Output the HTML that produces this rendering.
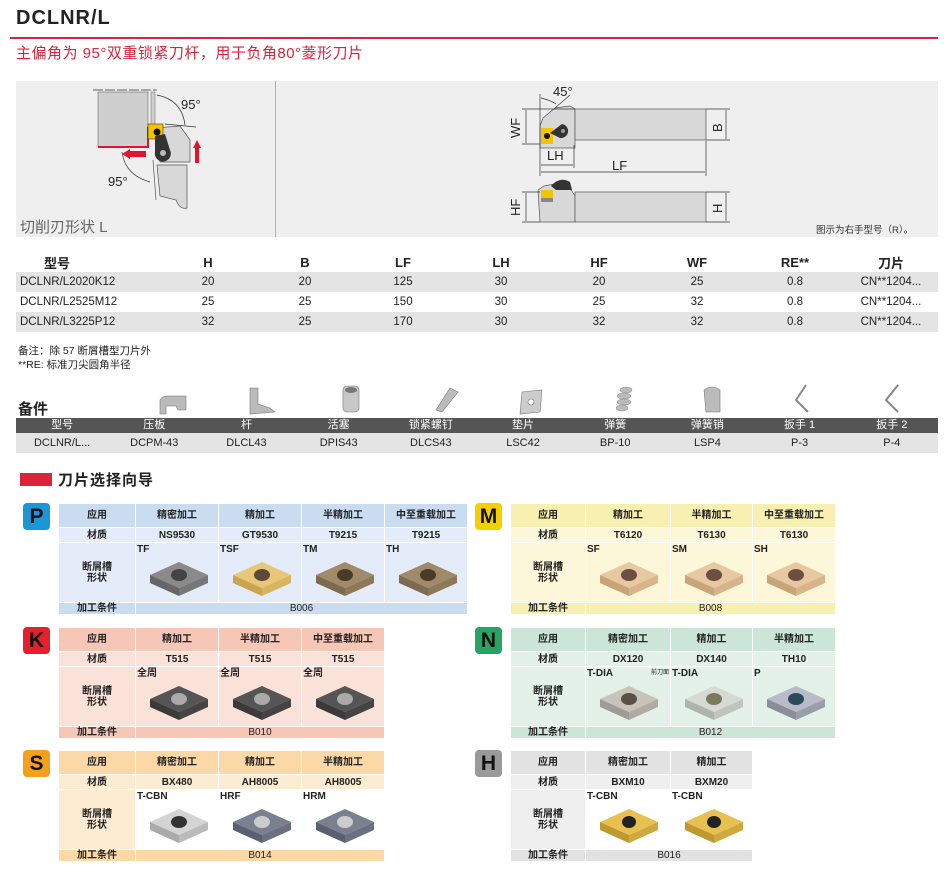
<!DOCTYPE html>
<html><head><meta charset="utf-8">
<style>
*{margin:0;padding:0;box-sizing:border-box}
body{width:950px;height:896px;background:#fff;position:relative;overflow:hidden;font-family:"Liberation Sans","Noto Sans CJK SC",sans-serif;color:#222}
.a{position:absolute}
table.g{position:absolute;border-collapse:collapse;table-layout:fixed}
table.g td{border:1px solid #fff;text-align:center;font-size:10px;font-weight:bold;padding:0;position:relative;vertical-align:middle;line-height:11px}
td .lb{position:absolute;left:1px;top:1px;font-size:10px;font-weight:bold}
td svg{position:absolute;left:12px;top:14px}
.badge{position:absolute;width:27px;height:27px;border-radius:4px;font-weight:bold;font-size:21px;text-align:center;line-height:27px;color:#111;font-family:"Liberation Sans",sans-serif}
table.s{position:absolute;border-collapse:collapse;table-layout:fixed;font-size:11.5px}
table.s td{text-align:center;padding:0;height:20px}
table.s tr.h15 td{height:15px;line-height:15px}
</style></head><body>

<div class="a" style="left:16px;top:7px;font-size:20px;font-weight:bold;letter-spacing:1px;color:#222">DCLNR/L</div>
<div class="a" style="left:10px;top:37px;width:928px;height:2px;background:#d9243a"></div>
<div class="a" style="left:16px;top:42px;font-size:15px;color:#d9243a;letter-spacing:0.5px">主偏角为 95°双重锁紧刀杆，用于负角80°菱形刀片</div>

<div class="a" style="left:16px;top:81px;width:922px;height:156px;background:#efefef"></div>
<div class="a" style="left:275px;top:81px;width:1px;height:156px;background:#e8a070"></div>

<svg class="a" style="left:0;top:0" width="950" height="240" viewBox="0 0 950 240">
 <g stroke="#333" stroke-width="0.8" fill="none">
  <line x1="93" y1="90" x2="157" y2="90" stroke-dasharray="10,2"/>
 </g>
 <rect x="98" y="92" width="50" height="55" fill="#cfcfcf" stroke="#666" stroke-width="0.6"/>
 <polyline points="98,147 148,147 148,127" fill="none" stroke="#e0142a" stroke-width="2"/>
 <rect x="151" y="92" width="4" height="35" fill="#cfcfcf" stroke="#666" stroke-width="0.5"/>
 <polygon points="155,128 180,126 190,140 190,162 160,162 156,140" fill="#d8d8d8" stroke="#555" stroke-width="0.7"/>
 <path d="M157,165 L187,165 L187,208 Q180,210 176,200 L160,196 Z" fill="#d8d8d8" stroke="#555" stroke-width="0.7"/>
 <line x1="153" y1="160" x2="156" y2="200" stroke="#555" stroke-width="0.7"/>
 <rect x="148" y="124" width="15" height="15" fill="#f5c400" stroke="#333" stroke-width="0.6"/>
 <circle cx="157" cy="132" r="3.5" fill="#111"/>
 <path d="M155,136 L165,134 L170,150 A8,8 0 1,1 155,152 Z" fill="#333"/>
 <circle cx="163" cy="153" r="3" fill="#bbb"/>
 <line x1="165" y1="124" x2="196" y2="127" stroke="#333" stroke-width="0.7"/>
 <path d="M157,95 Q182,100 185,125" fill="none" stroke="#333" stroke-width="0.7"/>
 <path d="M122,152 Q125,175 150,182" fill="none" stroke="#333" stroke-width="0.7"/>
 <text x="181" y="109" font-size="13" fill="#222">95°</text>
 <text x="108" y="186" font-size="13" fill="#222">95°</text>
 <polygon points="130,151 146,151 146,157 130,157 130,159 122,154 130,149" fill="#e0142a"/>
 <polygon points="195,163 195,148 193,148 197,140 201,148 199,148 199,163" fill="#e0142a"/>

 <polygon points="540,126 540,148 575,148 575,109 570,106 555,108 543,118" fill="#d8d8d8" stroke="#555" stroke-width="0.7"/>
 <rect x="575" y="109" width="131" height="31" fill="#d8d8d8" stroke="#555" stroke-width="0.7"/>
 <rect x="541" y="128" width="12" height="16" fill="#f5c400"/>
 <circle cx="547" cy="136" r="3" fill="#111"/>
 <path d="M550,133 L562,124 A7,7 0 1,1 560,138 Z" fill="#333"/>
 <circle cx="563" cy="131" r="2" fill="#999"/>
 <path d="M538,190 L544,186 L560,183 L570,188 L575,196 L575,222 L540,222 Z" fill="#d8d8d8" stroke="#555" stroke-width="0.7"/>
 <rect x="575" y="192" width="131" height="30" fill="#d8d8d8" stroke="#555" stroke-width="0.7"/>
 <path d="M551,186 Q560,176 570,182 L572,190 L556,190 Z" fill="#333"/>
 <rect x="541" y="190" width="12" height="10" fill="#f5c400"/>
 <rect x="541" y="198" width="12" height="4" fill="#888"/>
 <g stroke="#333" stroke-width="0.7" fill="none">
  <line x1="522" y1="109" x2="575" y2="109"/><line x1="522" y1="144" x2="540" y2="144"/>
  <line x1="526" y1="110" x2="526" y2="143"/>
  <line x1="706" y1="109" x2="730" y2="109"/><line x1="706" y1="140" x2="730" y2="140"/>
  <line x1="726" y1="110" x2="726" y2="139"/>
  <line x1="706" y1="192" x2="730" y2="192"/><line x1="706" y1="222" x2="730" y2="222"/>
  <line x1="726" y1="193" x2="726" y2="221"/>
  <line x1="522" y1="192" x2="540" y2="192"/><line x1="522" y1="222" x2="540" y2="222"/>
  <line x1="526" y1="193" x2="526" y2="221"/>
  <line x1="540" y1="94" x2="540" y2="176"/><line x1="574" y1="145" x2="574" y2="168"/>
  <line x1="706" y1="141" x2="706" y2="176"/>
  <line x1="541" y1="165" x2="573" y2="165"/><line x1="541" y1="172" x2="705" y2="172"/>
  <line x1="555" y1="108" x2="570" y2="95"/>
  <path d="M541,98 Q550,100 556,104"/>
 </g>
 <text x="553" y="96" font-size="13" fill="#222">45°</text>
 <text x="547" y="160" font-size="13" fill="#222">LH</text>
 <text x="612" y="170" font-size="13" fill="#222">LF</text>
 <text transform="translate(520,138) rotate(-90)" font-size="13" fill="#222">WF</text>
 <text transform="translate(520,216) rotate(-90)" font-size="13" fill="#222">HF</text>
 <text transform="translate(722,132) rotate(-90)" font-size="13" fill="#222">B</text>
 <text transform="translate(722,213) rotate(-90)" font-size="13" fill="#222">H</text>
</svg>
<div class="a" style="left:20px;top:216px;font-size:15px;color:#666">切削刃形状 L</div>
<div class="a" style="left:816px;top:222px;font-size:9.5px;color:#333">图示为右手型号（R）。</div>

<table class="s" style="left:16px;top:252px;width:922px">
<colgroup><col style="width:100px"><col style="width:140px"><col style="width:98px"><col style="width:98px"><col style="width:98px"><col style="width:98px"><col style="width:98px"><col style="width:98px"><col style="width:94px"></colgroup>
<tr style="font-weight:bold;font-size:13px"><td style="text-align:left;padding-left:28px">型号</td><td style="padding-left:44px">H</td><td>B</td><td>LF</td><td>LH</td><td>HF</td><td>WF</td><td>RE**</td><td>刀片</td></tr>
<tr style="background:#e4e4e4"><td style="text-align:left;padding-left:4px">DCLNR/L2020K12</td><td style="padding-left:44px">20</td><td>20</td><td>125</td><td>30</td><td>20</td><td>25</td><td>0.8</td><td>CN**1204...</td></tr>
<tr><td style="text-align:left;padding-left:4px">DCLNR/L2525M12</td><td style="padding-left:44px">25</td><td>25</td><td>150</td><td>30</td><td>25</td><td>32</td><td>0.8</td><td>CN**1204...</td></tr>
<tr style="background:#e4e4e4"><td style="text-align:left;padding-left:4px">DCLNR/L3225P12</td><td style="padding-left:44px">32</td><td>25</td><td>170</td><td>30</td><td>32</td><td>32</td><td>0.8</td><td>CN**1204...</td></tr>
</table>
<div class="a" style="left:18px;top:344px;font-size:10.5px;line-height:14px">备注：除 57 断屑槽型刀片外<br>**RE: 标准刀尖圆角半径</div>

<div class="a" style="left:18px;top:398px;font-size:15px;font-weight:bold">备件</div>
<svg class="a" style="left:0;top:380px" width="950" height="38">
 <path d="M160,34 L160,20 Q162,16 168,16 L186,16 L186,30 L178,30 L176,26 L166,26 L166,34 Z" fill="#bbb" stroke="#777" stroke-width="0.6"/>
 <path d="M250,8 L258,8 L258,24 L270,28 L275,32 L250,34 Z" fill="#bbb" stroke="#777" stroke-width="0.6"/>
 <rect x="343" y="6" width="16" height="26" rx="4" fill="#c8c8c8" stroke="#777" stroke-width="0.6"/><ellipse cx="351" cy="10" rx="6" ry="3" fill="#777"/>
 <path d="M450,8 L458,12 L442,32 L436,30 Z" fill="#bbb" stroke="#777" stroke-width="0.6"/>
 <polygon points="522,12 542,10 540,32 520,34" fill="#ccc" stroke="#777" stroke-width="0.6"/><circle cx="531" cy="22" r="3" fill="#fff" stroke="#777" stroke-width="0.6"/>
 <g fill="#bbb" stroke="#888" stroke-width="0.5"><ellipse cx="626" cy="10" rx="6" ry="3"/><ellipse cx="624" cy="16" rx="7" ry="3"/><ellipse cx="624" cy="22" rx="7" ry="3"/><ellipse cx="622" cy="28" rx="6" ry="3"/></g>
 <path d="M704,10 Q712,4 720,10 L720,32 L706,32 Z" fill="#bbb" stroke="#777" stroke-width="0.6"/>
 <polyline points="806,5 796,20 808,32" fill="none" stroke="#888" stroke-width="2"/>
 <polyline points="898,5 886,20 898,32" fill="none" stroke="#888" stroke-width="2"/>
</svg>
<table class="s" style="left:16px;top:418px;width:922px;font-size:11px">
<tr class="h15" style="background:#555;color:#fff"><td>型号</td><td>压板</td><td>杆</td><td>活塞</td><td>锁紧螺钉</td><td>垫片</td><td>弹簧</td><td>弹簧销</td><td>扳手 1</td><td>扳手 2</td></tr>
<tr style="background:#e4e4e4"><td>DCLNR/L...</td><td>DCPM-43</td><td>DLCL43</td><td>DPIS43</td><td>DLCS43</td><td>LSC42</td><td>BP-10</td><td>LSP4</td><td>P-3</td><td>P-4</td></tr>
</table>

<div class="a" style="left:20px;top:473px;width:32px;height:13px;background:#d9243a"></div>
<div class="a" style="left:58px;top:469px;font-size:15px;font-weight:bold;letter-spacing:1px">刀片选择向导</div>

<div class="badge" style="left:23px;top:503px;background:#1b97d5">P</div>
<table class="g" style="left:58px;top:503px;width:409px">
<colgroup><col style="width:77px"><col style="width:83px"><col style="width:83px"><col style="width:83px"><col style="width:83px"></colgroup>
<tr style="height:24px;background:#c9dcf0"><td>应用</td><td>精密加工</td><td>精加工</td><td>半精加工</td><td>中至重载加工</td></tr>
<tr style="height:15px;background:#e3ecf8;font-size:11px"><td>材质</td><td>NS9530</td><td>GT9530</td><td>T9215</td><td>T9215</td></tr>
<tr style="height:60px;background:#e3ecf8"><td>断屑槽<br>形状</td>
<td><span class="lb">TF</span><svg width="62" height="42"><polygon points="2,18 31,5 60,18 31,31" fill="#8a8a8a"/><polygon points="2,18 31,31 31,39 2,26" fill="#666"/><polygon points="31,31 60,18 60,26 31,39" fill="#777"/><ellipse cx="31" cy="18" rx="8" ry="6" fill="#444"/></svg></td>
<td><span class="lb">TSF</span><svg width="62" height="42"><polygon points="2,18 31,5 60,18 31,31" fill="#e8c878"/><polygon points="2,18 31,31 31,39 2,26" fill="#c9a550"/><polygon points="31,31 60,18 60,26 31,39" fill="#d8b460"/><ellipse cx="31" cy="18" rx="8" ry="6" fill="#5a4a3a"/></svg></td>
<td><span class="lb">TM</span><svg width="62" height="42"><polygon points="2,18 31,5 60,18 31,31" fill="#a08a6a"/><polygon points="2,18 31,31 31,39 2,26" fill="#7e6a4e"/><polygon points="31,31 60,18 60,26 31,39" fill="#8e785a"/><ellipse cx="31" cy="18" rx="8" ry="6" fill="#4a3a2a"/></svg></td>
<td><span class="lb">TH</span><svg width="62" height="42"><polygon points="2,18 31,5 60,18 31,31" fill="#a08a6a"/><polygon points="2,18 31,31 31,39 2,26" fill="#7e6a4e"/><polygon points="31,31 60,18 60,26 31,39" fill="#8e785a"/><ellipse cx="31" cy="18" rx="8" ry="6" fill="#4a3a2a"/></svg></td></tr>
<tr style="height:12px;background:#c9dcf0;font-weight:normal"><td style="font-weight:bold">加工条件</td><td colspan="4" style="font-weight:normal">B006</td></tr>
</table>

<div class="badge" style="left:475px;top:503px;background:#f5d000">M</div>
<table class="g" style="left:510px;top:503px;width:325px">
<colgroup><col style="width:75px"><col style="width:85px"><col style="width:82px"><col style="width:83px"></colgroup>
<tr style="height:24px;background:#f8f0b0"><td>应用</td><td>精加工</td><td>半精加工</td><td>中至重载加工</td></tr>
<tr style="height:15px;background:#fcf7d8;font-size:11px"><td>材质</td><td>T6120</td><td>T6130</td><td>T6130</td></tr>
<tr style="height:60px;background:#fcf7d8"><td>断屑槽<br>形状</td>
<td><span class="lb">SF</span><svg width="62" height="42"><polygon points="2,18 31,5 60,18 31,31" fill="#e8c8a0"/><polygon points="2,18 31,31 31,39 2,26" fill="#c8a478"/><polygon points="31,31 60,18 60,26 31,39" fill="#d8b48a"/><ellipse cx="31" cy="18" rx="8" ry="6" fill="#6a5040"/></svg></td>
<td><span class="lb">SM</span><svg width="62" height="42"><polygon points="2,18 31,5 60,18 31,31" fill="#e8c8a0"/><polygon points="2,18 31,31 31,39 2,26" fill="#c8a478"/><polygon points="31,31 60,18 60,26 31,39" fill="#d8b48a"/><ellipse cx="31" cy="18" rx="8" ry="6" fill="#6a5040"/></svg></td>
<td><span class="lb">SH</span><svg width="62" height="42"><polygon points="2,18 31,5 60,18 31,31" fill="#e8c8a0"/><polygon points="2,18 31,31 31,39 2,26" fill="#c8a478"/><polygon points="31,31 60,18 60,26 31,39" fill="#d8b48a"/><ellipse cx="31" cy="18" rx="8" ry="6" fill="#6a5040"/></svg></td></tr>
<tr style="height:12px;background:#f8f0b0"><td>加工条件</td><td colspan="3" style="font-weight:normal">B008</td></tr>
</table>

<div class="badge" style="left:23px;top:627px;background:#e5202e">K</div>
<table class="g" style="left:58px;top:627px;width:326px">
<colgroup><col style="width:77px"><col style="width:83px"><col style="width:83px"><col style="width:83px"></colgroup>
<tr style="height:24px;background:#f6c6b6"><td>应用</td><td>精加工</td><td>半精加工</td><td>中至重载加工</td></tr>
<tr style="height:15px;background:#fbe2d8;font-size:11px"><td>材质</td><td>T515</td><td>T515</td><td>T515</td></tr>
<tr style="height:60px;background:#fbe2d8"><td>断屑槽<br>形状</td>
<td><span class="lb">全周</span><svg width="62" height="42"><polygon points="2,18 31,5 60,18 31,31" fill="#555"/><polygon points="2,18 31,31 31,39 2,26" fill="#3a3a3a"/><polygon points="31,31 60,18 60,26 31,39" fill="#444"/><ellipse cx="31" cy="18" rx="8" ry="6" fill="#aaa"/></svg></td>
<td><span class="lb">全周</span><svg width="62" height="42"><polygon points="2,18 31,5 60,18 31,31" fill="#555"/><polygon points="2,18 31,31 31,39 2,26" fill="#3a3a3a"/><polygon points="31,31 60,18 60,26 31,39" fill="#444"/><ellipse cx="31" cy="18" rx="8" ry="6" fill="#aaa"/></svg></td>
<td><span class="lb">全周</span><svg width="62" height="42"><polygon points="2,18 31,5 60,18 31,31" fill="#555"/><polygon points="2,18 31,31 31,39 2,26" fill="#3a3a3a"/><polygon points="31,31 60,18 60,26 31,39" fill="#444"/><ellipse cx="31" cy="18" rx="8" ry="6" fill="#aaa"/></svg></td></tr>
<tr style="height:12px;background:#f6c6b6"><td>加工条件</td><td colspan="3" style="font-weight:normal">B010</td></tr>
</table>

<div class="badge" style="left:475px;top:627px;background:#27a463">N</div>
<table class="g" style="left:510px;top:627px;width:325px">
<colgroup><col style="width:75px"><col style="width:85px"><col style="width:82px"><col style="width:83px"></colgroup>
<tr style="height:24px;background:#cbe5d6"><td>应用</td><td>精密加工</td><td>精加工</td><td>半精加工</td></tr>
<tr style="height:15px;background:#e4f1e9;font-size:11px"><td>材质</td><td>DX120</td><td>DX140</td><td>TH10</td></tr>
<tr style="height:60px;background:#e4f1e9"><td>断屑槽<br>形状</td>
<td><span class="lb">T-DIA</span><span style="position:absolute;right:1px;top:1px;font-size:6px;font-weight:normal">前刀面</span><svg width="62" height="42"><polygon points="2,18 31,5 60,18 31,31" fill="#c8c4bc"/><polygon points="2,18 31,31 31,39 2,26" fill="#a09c94"/><polygon points="31,31 60,18 60,26 31,39" fill="#b0aca4"/><ellipse cx="31" cy="18" rx="8" ry="6" fill="#5a5046"/></svg></td>
<td><span class="lb">T-DIA</span><svg width="62" height="42"><polygon points="2,18 31,5 60,18 31,31" fill="#d6dad2"/><polygon points="2,18 31,31 31,39 2,26" fill="#b0b4ac"/><polygon points="31,31 60,18 60,26 31,39" fill="#c0c4bc"/><ellipse cx="31" cy="18" rx="8" ry="6" fill="#7a7a5a"/></svg></td>
<td><span class="lb">P</span><svg width="62" height="42"><polygon points="2,18 31,5 60,18 31,31" fill="#b8bcc8"/><polygon points="2,18 31,31 31,39 2,26" fill="#8a8e9a"/><polygon points="31,31 60,18 60,26 31,39" fill="#9a9eaa"/><ellipse cx="31" cy="18" rx="8" ry="6" fill="#2a4a5a"/></svg></td></tr>
<tr style="height:12px;background:#cbe5d6"><td>加工条件</td><td colspan="3" style="font-weight:normal">B012</td></tr>
</table>

<div class="badge" style="left:23px;top:750px;background:#f5a01a">S</div>
<table class="g" style="left:58px;top:750px;width:326px">
<colgroup><col style="width:77px"><col style="width:83px"><col style="width:83px"><col style="width:83px"></colgroup>
<tr style="height:24px;background:#fbd8a6"><td>应用</td><td>精密加工</td><td>精加工</td><td>半精加工</td></tr>
<tr style="height:15px;background:#fdebd2;font-size:11px"><td>材质</td><td>BX480</td><td>AH8005</td><td>AH8005</td></tr>
<tr style="height:60px;background:#fdebd2"><td>断屑槽<br>形状</td>
<td style="background:#fff"><span class="lb">T-CBN</span><svg width="62" height="42"><polygon points="2,18 31,5 60,18 31,31" fill="#d4d4d4"/><polygon points="2,18 31,31 31,39 2,26" fill="#aaa"/><polygon points="31,31 60,18 60,26 31,39" fill="#bbb"/><ellipse cx="31" cy="18" rx="8" ry="6" fill="#333"/></svg></td>
<td style="background:#fff"><span class="lb">HRF</span><svg width="62" height="42"><polygon points="2,18 31,5 60,18 31,31" fill="#7a8090"/><polygon points="2,18 31,31 31,39 2,26" fill="#5a6070"/><polygon points="31,31 60,18 60,26 31,39" fill="#6a7080"/><ellipse cx="31" cy="18" rx="8" ry="6" fill="#ccc"/></svg></td>
<td style="background:#fff"><span class="lb">HRM</span><svg width="62" height="42"><polygon points="2,18 31,5 60,18 31,31" fill="#7a8090"/><polygon points="2,18 31,31 31,39 2,26" fill="#5a6070"/><polygon points="31,31 60,18 60,26 31,39" fill="#6a7080"/><ellipse cx="31" cy="18" rx="8" ry="6" fill="#ccc"/></svg></td></tr>
<tr style="height:12px;background:#fbd8a6"><td>加工条件</td><td colspan="3" style="font-weight:normal">B014</td></tr>
</table>

<div class="badge" style="left:475px;top:750px;background:#9a9a9a">H</div>
<table class="g" style="left:510px;top:750px;width:242px">
<colgroup><col style="width:75px"><col style="width:85px"><col style="width:82px"></colgroup>
<tr style="height:24px;background:#e2e2e2"><td>应用</td><td>精密加工</td><td>精加工</td></tr>
<tr style="height:15px;background:#efefef;font-size:11px"><td>材质</td><td>BXM10</td><td>BXM20</td></tr>
<tr style="height:60px;background:#efefef"><td>断屑槽<br>形状</td>
<td style="background:#fff"><span class="lb">T-CBN</span><svg width="62" height="42"><polygon points="2,18 31,5 60,18 31,31" fill="#e8c050"/><polygon points="2,18 31,31 31,39 2,26" fill="#c09830"/><polygon points="31,31 60,18 60,26 31,39" fill="#d0a840"/><ellipse cx="31" cy="18" rx="7" ry="6" fill="#222"/></svg></td>
<td style="background:#fff"><span class="lb">T-CBN</span><svg width="62" height="42"><polygon points="2,18 31,5 60,18 31,31" fill="#e8c050"/><polygon points="2,18 31,31 31,39 2,26" fill="#c09830"/><polygon points="31,31 60,18 60,26 31,39" fill="#d0a840"/><ellipse cx="31" cy="18" rx="7" ry="6" fill="#222"/></svg></td></tr>
<tr style="height:12px;background:#e2e2e2"><td>加工条件</td><td colspan="2" style="font-weight:normal">B016</td></tr>
</table>

</body></html>
